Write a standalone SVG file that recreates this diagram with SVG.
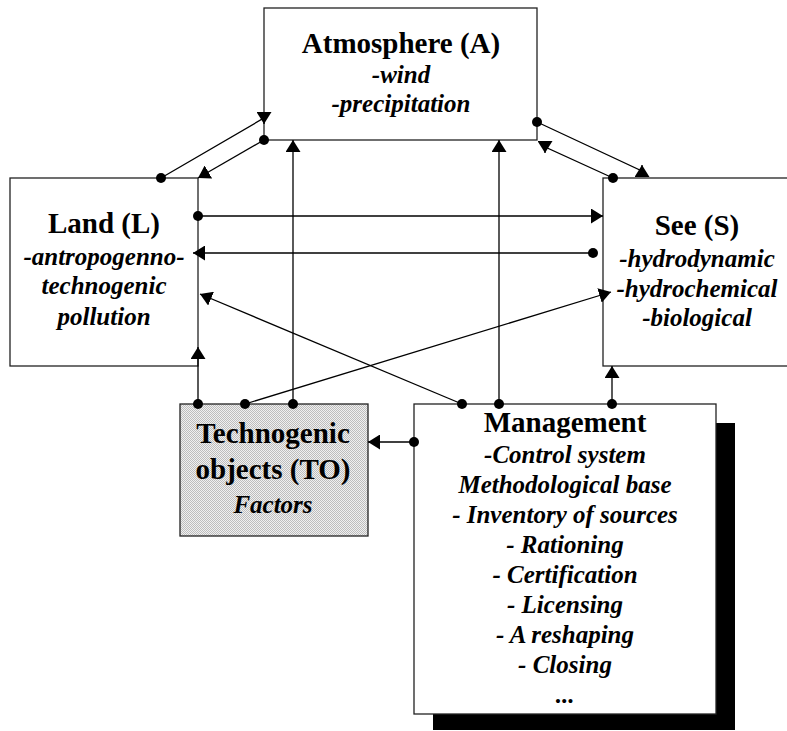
<svg xmlns="http://www.w3.org/2000/svg" width="787" height="731" viewBox="0 0 787 731">
<style>
.box{fill:#fff;stroke:#222;stroke-width:1.3}
.t{font-family:'Liberation Serif','DejaVu Serif',serif;font-weight:bold;font-size:29px;text-anchor:middle;fill:#000}
.i{font-family:'Liberation Serif','DejaVu Serif',serif;font-weight:bold;font-style:italic;font-size:25px;text-anchor:middle;fill:#000}
.c{fill:none;stroke:#000;stroke-width:1.3;marker-end:url(#arr)}
.d{fill:#000}
</style>
<defs>
<marker id="arr" markerUnits="userSpaceOnUse" markerWidth="13" markerHeight="15" refX="12" refY="7.5" orient="auto" viewBox="0 0 13 15">
<path d="M0,0 L12,7.5 L0,15 z" fill="#000"/>
</marker>
<pattern id="stip" width="2" height="2" patternUnits="userSpaceOnUse">
<rect width="2" height="2" fill="#f0f0f0"/>
<rect width="1" height="1" fill="#bdbdbd"/>
<rect x="1" y="1" width="1" height="1" fill="#bdbdbd"/>
</pattern>
</defs>
<g id="atmosphere">
<rect class="box" x="264" y="8" width="273" height="132"/>
<text class="t" x="401" y="53" font-family="Liberation Serif">Atmosphere (A)</text>
<text class="i" x="401" y="83">-wind</text>
<text class="i" x="401" y="112">-precipitation</text>
</g>
<g id="land">
<rect class="box" x="10" y="178" width="188" height="188"/>
<text class="t" x="104" y="233">Land (L)</text>
<text class="i" x="104" y="265">-antropogenno-</text>
<text class="i" x="104" y="294">technogenic</text>
<text class="i" x="104" y="325">pollution</text>
</g>
<g id="see">
<rect class="box" x="603" y="178" width="200" height="188"/>
<text class="t" x="697" y="235">See (S)</text>
<text class="i" x="697" y="267">-hydrodynamic</text>
<text class="i" x="697" y="297">-hydrochemical</text>
<text class="i" x="697" y="326">-biological</text>
</g>
<g id="technogenic">
<rect x="180" y="404" width="188" height="132" fill="url(#stip)" stroke="#222" stroke-width="1.3"/>
<text class="t" x="273" y="443">Technogenic</text>
<text class="t" x="273" y="479">objects (TO)</text>
<text class="i" x="273" y="513">Factors</text>
</g>
<g id="management">
<rect x="433" y="423" width="302" height="307" fill="#000"/>
<rect class="box" x="414" y="404" width="302" height="310"/>
<text class="t" x="565" y="432">Management</text>
<text class="i" x="565" y="463">-Control system</text>
<text class="i" x="565" y="493">Methodological base</text>
<text class="i" x="565" y="523">- Inventory of sources</text>
<text class="i" x="565" y="553">- Rationing</text>
<text class="i" x="565" y="583">- Certification</text>
<text class="i" x="565" y="613">- Licensing</text>
<text class="i" x="565" y="643">- A reshaping</text>
<text class="i" x="565" y="673">- Closing</text>
<text class="i" x="565" y="703">...</text>
</g>
<g id="connectors">
<path class="c" d="M161,178 L264,118 L264,124"/>
<path class="c" d="M264,140 L198,178"/>
<path class="c" d="M537,122 L642,171 L642,165"/>
<path class="c" d="M613,178 L545,147 L545,153"/>
<path class="c" d="M198,216 L603,216"/>
<path class="c" d="M593,253 L193,253"/>
<path class="c" d="M462,404 L200,294"/>
<path class="c" d="M245,404 L611,292"/>
<path class="c" d="M198,404 L198,347"/>
<path class="c" d="M293,404 L293,140"/>
<path class="c" d="M499,404 L499,140"/>
<path class="c" d="M612,404 L612,366"/>
<path class="c" d="M414,442 L368,442"/>
<circle class="d" cx="161" cy="178" r="5"/>
<circle class="d" cx="264" cy="140" r="5"/>
<circle class="d" cx="537" cy="122" r="5"/>
<circle class="d" cx="613" cy="178" r="5"/>
<circle class="d" cx="198" cy="216" r="5"/>
<circle class="d" cx="593" cy="253" r="5"/>
<circle class="d" cx="462" cy="404" r="5"/>
<circle class="d" cx="245" cy="404" r="5"/>
<circle class="d" cx="198" cy="404" r="5"/>
<circle class="d" cx="293" cy="404" r="5"/>
<circle class="d" cx="499" cy="404" r="5"/>
<circle class="d" cx="612" cy="404" r="5"/>
<circle class="d" cx="414" cy="442" r="5"/>
</g>
</svg>
